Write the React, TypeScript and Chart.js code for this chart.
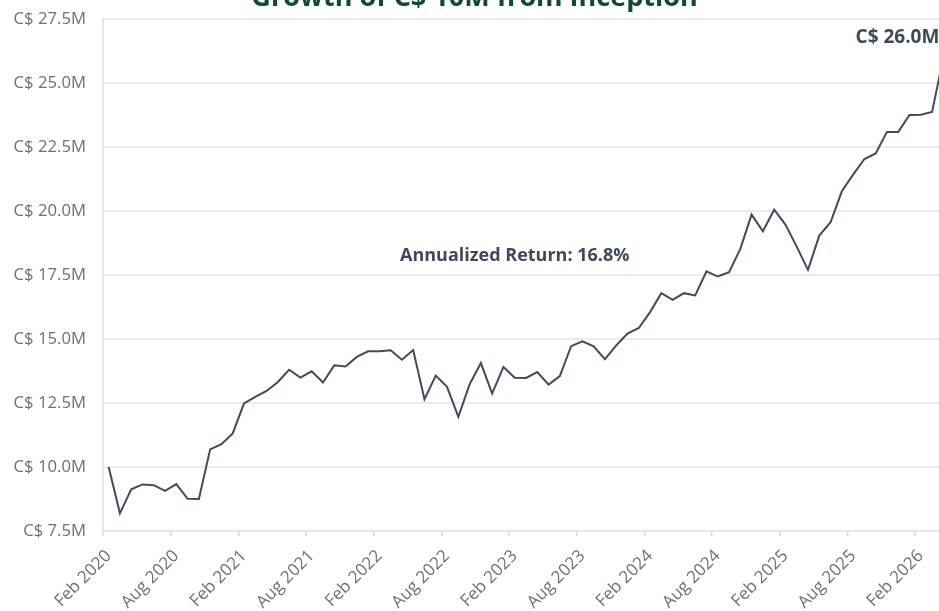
import React, { useEffect, useRef } from "react";
import { Chart, registerables } from "chart.js";

Chart.register(...registerables);

const months: string[] = [
  "Feb 2020", "Mar 2020", "Apr 2020", "May 2020", "Jun 2020", "Jul 2020", "Aug 2020", "Sep 2020", "Oct 2020", "Nov 2020", "Dec 2020", "Jan 2021",
  "Feb 2021", "Mar 2021", "Apr 2021", "May 2021", "Jun 2021", "Jul 2021", "Aug 2021", "Sep 2021", "Oct 2021", "Nov 2021", "Dec 2021", "Jan 2022",
  "Feb 2022", "Mar 2022", "Apr 2022", "May 2022", "Jun 2022", "Jul 2022", "Aug 2022", "Sep 2022", "Oct 2022", "Nov 2022", "Dec 2022", "Jan 2023",
  "Feb 2023", "Mar 2023", "Apr 2023", "May 2023", "Jun 2023", "Jul 2023", "Aug 2023", "Sep 2023", "Oct 2023", "Nov 2023", "Dec 2023", "Jan 2024",
  "Feb 2024", "Mar 2024", "Apr 2024", "May 2024", "Jun 2024", "Jul 2024", "Aug 2024", "Sep 2024", "Oct 2024", "Nov 2024", "Dec 2024", "Jan 2025",
  "Feb 2025", "Mar 2025", "Apr 2025", "May 2025", "Jun 2025", "Jul 2025", "Aug 2025", "Sep 2025", "Oct 2025", "Nov 2025", "Dec 2025", "Jan 2026",
  "Feb 2026", "Mar 2026", "Apr 2026",
];

// Portfolio value in C$ millions
const portfolioValue: number[] = [
  10.0, 8.19, 9.13, 9.32, 9.29, 9.07, 9.33, 8.76, 8.75, 10.69, 10.89, 11.31,
  12.48, 12.74, 12.97, 13.32, 13.80, 13.49, 13.74, 13.30, 13.97, 13.93, 14.30, 14.52,
  14.52, 14.56, 14.19, 14.57, 12.65, 13.57, 13.13, 11.96, 13.23, 14.06, 12.87, 13.91,
  13.49, 13.48, 13.71, 13.22, 13.55, 14.72, 14.91, 14.71, 14.21, 14.75, 15.21, 15.43,
  16.05, 16.79, 16.53, 16.79, 16.70, 17.64, 17.44, 17.61, 18.52, 19.86, 19.21, 20.05,
  19.47, 18.61, 17.70, 19.04, 19.56, 20.77, 21.42, 22.03, 22.25, 23.09, 23.09, 23.75,
  23.76, 23.87, 26.0,
];

const xTickLabels: string[] = [
  "Feb 2020", "Aug 2020", "Feb 2021", "Aug 2021", "Feb 2022", "Aug 2022", "Feb 2023",
  "Aug 2023", "Feb 2024", "Aug 2024", "Feb 2025", "Aug 2025", "Feb 2026",
];

const yTickValues: number[] = [7.5, 10.0, 12.5, 15.0, 17.5, 20.0, 22.5, 25.0, 27.5];

const titleText = "Growth of C$ 10M from Inception";
const annualizedReturn = 16.8;
const annotationIndex = 36;
const annotationValue = 18.25;

const FONT = "'Open Sans', sans-serif";

const annotationsPlugin = {
  id: "annotations",
  afterDatasetsDraw(chart: any) {
    const { ctx, scales } = chart;
    const xs = scales.x;
    const ys = scales.y;
    ctx.save();
    ctx.fillStyle = "#3c4a5e";
    ctx.font = `bold 18px ${FONT}`;
    ctx.textAlign = "center";
    ctx.textBaseline = "middle";
    ctx.fillText(
      `Annualized Return: ${annualizedReturn.toFixed(1)}%`,
      xs.getPixelForValue(annotationIndex),
      ys.getPixelForValue(annotationValue)
    );
    const lastIdx = portfolioValue.length - 1;
    const lastVal = portfolioValue[lastIdx];
    ctx.font = `bold 19px ${FONT}`;
    ctx.textAlign = "right";
    ctx.fillText(
      `C$ ${lastVal.toFixed(1)}M`,
      xs.getPixelForValue(lastIdx) - 4,
      ys.getPixelForValue(lastVal) - 20
    );
    ctx.restore();
  },
};

export default function App() {
  const canvasRef = useRef<HTMLCanvasElement | null>(null);

  useEffect(() => {
    if (!canvasRef.current) return;
    const chart = new Chart(canvasRef.current, {
      type: "line",
      data: {
        labels: months,
        datasets: [
          {
            data: portfolioValue,
            borderColor: "#3f4b5e",
            borderWidth: 2,
            pointRadius: 0,
            tension: 0,
            fill: false,
          },
        ],
      },
      options: {
        responsive: false,
        animation: false,
        layout: { padding: { left: 0, right: 21, top: 0, bottom: 0 } },
        plugins: {
          legend: { display: false },
          tooltip: { enabled: false },
          title: {
            display: true,
            text: titleText,
            color: "#0e4a38",
            font: { family: FONT, size: 27, weight: "bold", lineHeight: 1 },
            padding: { top: 0, bottom: 7 },
          },
        },
        scales: {
          x: {
            type: "category",
            offset: true,
            afterFit: (scale: any) => {
              scale.height = 80;
            },
            grid: {
              offset: true,
              drawOnChartArea: false,
              tickLength: 5,
              lineWidth: 1.5,
              color: (ctx: any) =>
                ctx.index !== undefined && xTickLabels.includes(months[ctx.index])
                  ? "#d9d9d9"
                  : "rgba(0,0,0,0)",
            },
            border: { display: true, color: "#e6e6e6", width: 2 },
            ticks: {
              autoSkip: false,
              minRotation: 45,
              maxRotation: 45,
              padding: 10,
              color: "#6f6f6f",
              font: { family: FONT, size: 17 },
              callback: (_v: any, i: number) =>
                xTickLabels.includes(months[i]) ? months[i] : "",
            },
          },
          y: {
            min: 7.5,
            max: 27.5,
            afterFit: (scale: any) => {
              scale.width = 103;
            },
            afterBuildTicks: (scale: any) => {
              scale.ticks = yTickValues.map((v) => ({ value: v }));
            },
            grid: {
              drawTicks: false,
              color: "#ececec",
              lineWidth: 2,
            },
            border: { display: true, color: "#e6e6e6", width: 2 },
            ticks: {
              padding: 17,
              color: "#6f6f6f",
              font: { family: FONT, size: 16.7 },
              callback: (v: any) => `C$ ${Number(v).toFixed(1)}M`,
            },
          },
        },
      },
      plugins: [annotationsPlugin],
    });
    return () => chart.destroy();
  }, []);

  return (
    <div
      style={{
        position: "fixed",
        left: 0,
        top: 0,
        width: 939,
        height: 611,
        overflow: "hidden",
        background: "#ffffff",
      }}
    >
      <canvas
        ref={canvasRef}
        width={970}
        height={626}
        style={{ position: "absolute", left: 0, top: -15, width: 970, height: 626 }}
      />
    </div>
  );
}
